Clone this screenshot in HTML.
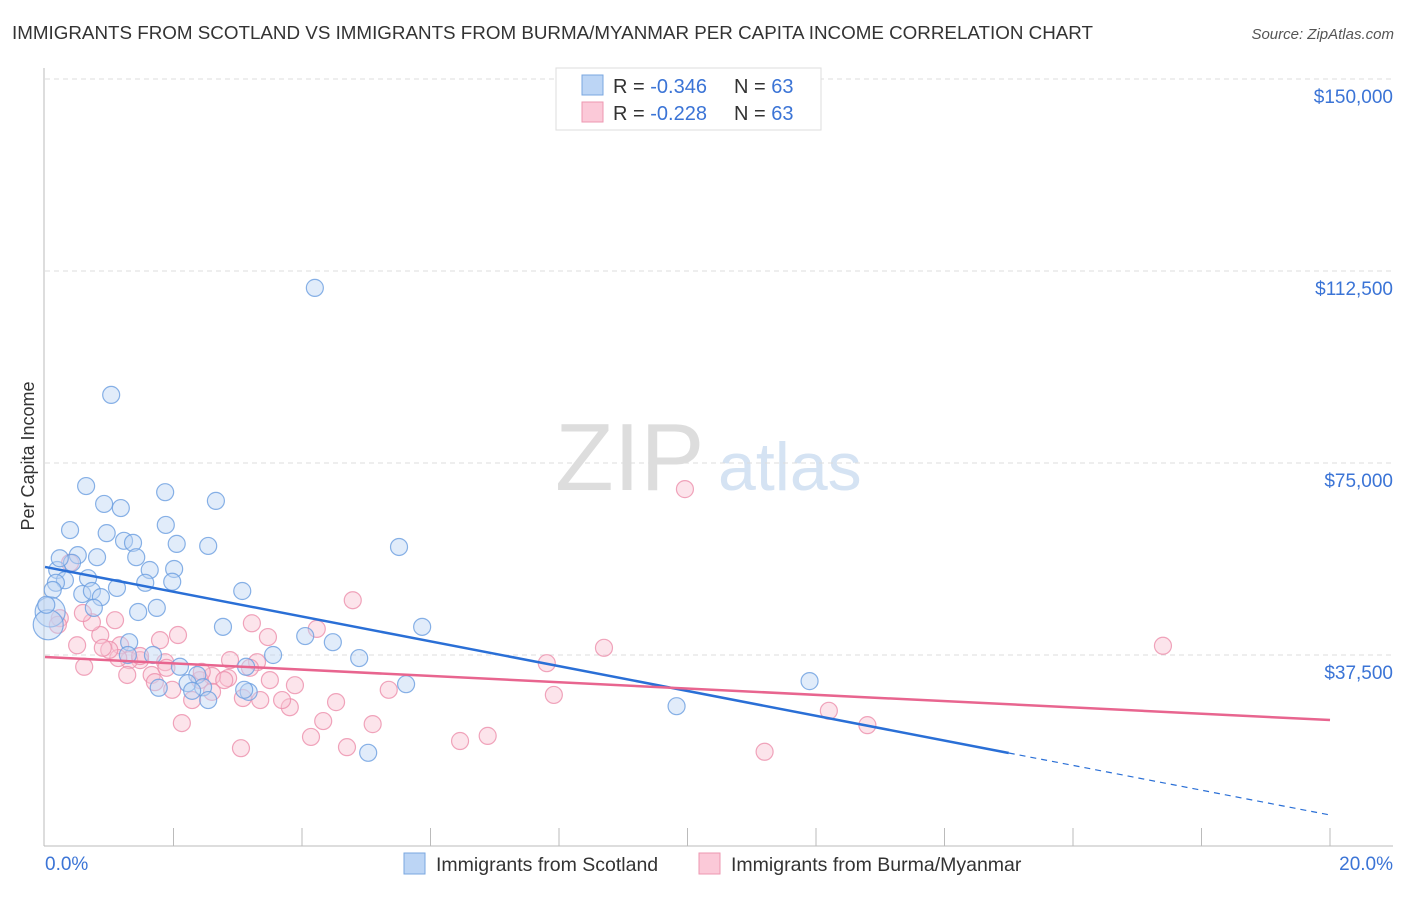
<!DOCTYPE html>
<html><head><meta charset="utf-8"><style>
body{margin:0;background:#fff;font-family:"Liberation Sans",sans-serif}
svg text{font-family:"Liberation Sans",sans-serif}
</style></head><body>
<svg id="chart" width="1406" height="892">
<text x="12" y="39" font-size="18" fill="#333" textLength="1081" lengthAdjust="spacingAndGlyphs">IMMIGRANTS FROM SCOTLAND VS IMMIGRANTS FROM BURMA/MYANMAR PER CAPITA INCOME CORRELATION CHART</text>
<text x="1394" y="39" font-size="15" fill="#555" font-style="italic" text-anchor="end">Source: ZipAtlas.com</text>
<g><text x="555" y="490" font-size="96" fill="#ddd" font-family="Liberation Serif">ZIP</text><text x="718" y="490" font-size="68" fill="#d5e3f3">atlas</text></g>
<g id="grid"></g><g id="axes"></g><g id="pts"></g><g id="lines"></g>
<text transform="translate(34,456) rotate(-90)" font-size="18" fill="#333" text-anchor="middle">Per Capita Income</text>
<g>
<rect x="556" y="68" width="265" height="62" fill="#fff" stroke="#ddd"/>
<rect x="582" y="75" width="21" height="20" fill="#bcd5f5" stroke="#7aa7e0"/>
<rect x="582" y="102" width="21" height="20" fill="#fbc9d8" stroke="#ee97b1"/>
<text x="613" y="93" font-size="20" fill="#333">R = <tspan fill="#3b74d6">-0.346</tspan><tspan x="734">N = </tspan><tspan fill="#3b74d6">63</tspan></text>
<text x="613" y="120" font-size="20" fill="#333">R = <tspan fill="#3b74d6"> -0.228</tspan><tspan x="734">N = </tspan><tspan fill="#3b74d6">63</tspan></text>
</g>
<g>
<rect x="404" y="853" width="21" height="21" fill="#bcd5f5" stroke="#7aa7e0"/>
<text x="436" y="871" font-size="19.5" fill="#333">Immigrants from Scotland</text>
<rect x="699" y="853" width="21" height="21" fill="#fbc9d8" stroke="#ee97b1"/>
<text x="731" y="871" font-size="19.5" fill="#333">Immigrants from Burma/Myanmar</text>
</g>
</svg>
<script>
const yTicks=[37500,75000,112500,150000];
const yTickLabels=["$37,500","$75,000","$112,500","$150,000"];
const xTickLabels=["0.0%","20.0%"];
const blueX=[4.2,1.03,0.64,1.87,2.66,0.92,1.18,0.39,1.88,0.96,1.23,1.37,2.05,2.54,5.51,0.81,0.51,1.42,0.42,1.63,2.01,0.19,0.67,0.31,0.17,1.56,1.98,1.12,3.07,0.12,0.58,0.73,0.87,1.74,0.76,1.45,0.08,0.05,2.77,5.87,4.05,4.48,1.31,1.68,3.55,1.29,4.89,2.10,3.13,2.37,5.62,11.9,2.22,2.46,1.77,2.29,3.17,2.54,9.83,5.03,0.02,0.23,3.1];
const blueY=[109.2,88.3,70.5,69.3,67.6,67.0,66.2,61.9,62.9,61.3,59.8,59.4,59.2,58.8,58.6,56.6,57.0,56.6,55.5,54.1,54.3,54.1,52.5,52.1,51.6,51.6,51.8,50.6,50.0,50.2,49.4,50.0,48.8,46.7,46.7,45.9,45.9,43.4,43.0,43.0,41.2,40.0,40.0,37.5,37.5,37.5,36.9,35.2,35.2,33.6,31.8,32.4,32.0,31.2,31.1,30.5,30.3,28.7,27.5,18.4,47.3,56.4,30.7];
const pinkX=[9.96,4.79,17.4,8.70,7.81,12.2,12.8,11.2,7.92,6.46,6.89,5.10,4.70,4.53,4.33,4.14,4.23,5.35,3.89,3.81,3.69,3.47,3.22,3.30,3.05,3.08,3.35,2.88,2.85,2.60,2.41,2.29,2.13,2.07,1.79,1.87,1.98,1.66,1.48,1.17,1.31,1.14,1.00,0.86,0.73,1.28,0.61,0.50,0.59,0.23,0.39,0.20,2.44,2.60,1.48,1.71,3.19,1.09,0.90,2.79,1.89,3.50];
const pinkY=[69.9,48.2,39.3,38.9,35.9,26.6,23.8,18.6,29.7,20.7,21.7,24.0,19.5,28.3,24.6,21.5,42.6,30.7,31.6,27.3,28.7,41.0,43.7,36.1,19.3,29.1,28.7,36.5,33.0,33.4,32.6,28.7,24.2,41.4,40.4,36.1,30.7,33.6,36.5,39.4,36.5,36.9,38.5,41.4,43.9,33.6,35.2,39.4,45.7,44.7,55.5,43.4,34.2,30.3,37.3,32.2,35.0,44.3,38.9,32.6,35.0,32.6];
const blueTrend=[54.7,6.25];const pinkTrend=[37.1,24.8];const blueSolidEnd=15.0;
const NS="http://www.w3.org/2000/svg";
const sx=v=>45+v/20*1285, sy=k=>847-k/37.5*192;
function mk(tag,attrs,parent){const e=document.createElementNS(NS,tag);for(const k in attrs)e.setAttribute(k,attrs[k]);document.getElementById(parent).appendChild(e);return e;}
yTicks.forEach((t,i)=>{
 const g=mk('line',{x1:45,x2:1393,y1:sy(t/1000),y2:sy(t/1000),stroke:'#ddd','stroke-dasharray':'5,4'},'grid');
 
 
 const tx=mk('text',{x:1393,y:sy(t/1000)+24,'font-size':19,fill:'#3b74d6','text-anchor':'end'},'axes');
 tx.textContent=yTickLabels[i];
 
 
});
let ax=mk('line',{x1:44,x2:44,y1:68,y2:846,stroke:'#bbb'},'axes');


let bx=mk('line',{x1:44,x2:1393,y1:846,y2:846,stroke:'#bbb'},'axes');


for(let i=1;i<=10;i++){const t=mk('line',{x1:45+i*128.5,x2:45+i*128.5,y1:828,y2:846,stroke:'#bbb'},'axes');
 
 }
[[45,'start'],[1393,'end']].forEach((p,i)=>{const t=mk('text',{x:p[0],y:870,'font-size':19,fill:'#3b74d6','text-anchor':p[1]},'axes');t.textContent=xTickLabels[i];
 
 });
function pts(X,Y,fill,stroke,name){X.forEach((x,i)=>{const c=mk('circle',{cx:sx(x),cy:sy(Y[i]),r:(x<0.1&&Y[i]>42&&Y[i]<47)?15:8.5,fill:fill,'fill-opacity':0.45,stroke:stroke,'stroke-opacity':0.8,'stroke-width':1.2},'pts');
 
 });}
pts(pinkX,pinkY,'#f9c3d3','#ec8fab','burma-point');
pts(blueX,blueY,'#bcd5f5','#6a9ee0','scotland-point');
const by=x=>blueTrend[0]+(blueTrend[1]-blueTrend[0])*x/20;
let l1=mk('line',{x1:sx(0),y1:sy(by(0)),x2:sx(blueSolidEnd),y2:sy(by(blueSolidEnd)),stroke:'#2a6fd6','stroke-width':2.5},'lines');


let l2=mk('line',{x1:sx(blueSolidEnd),y1:sy(by(blueSolidEnd)),x2:sx(20),y2:sy(by(20)),stroke:'#2a6fd6','stroke-width':1.2,'stroke-dasharray':'6,5'},'lines');


let l3=mk('line',{x1:sx(0),y1:sy(pinkTrend[0]),x2:sx(20),y2:sy(pinkTrend[1]),stroke:'#e8658f','stroke-width':2.5},'lines');


</script>
</body></html>
